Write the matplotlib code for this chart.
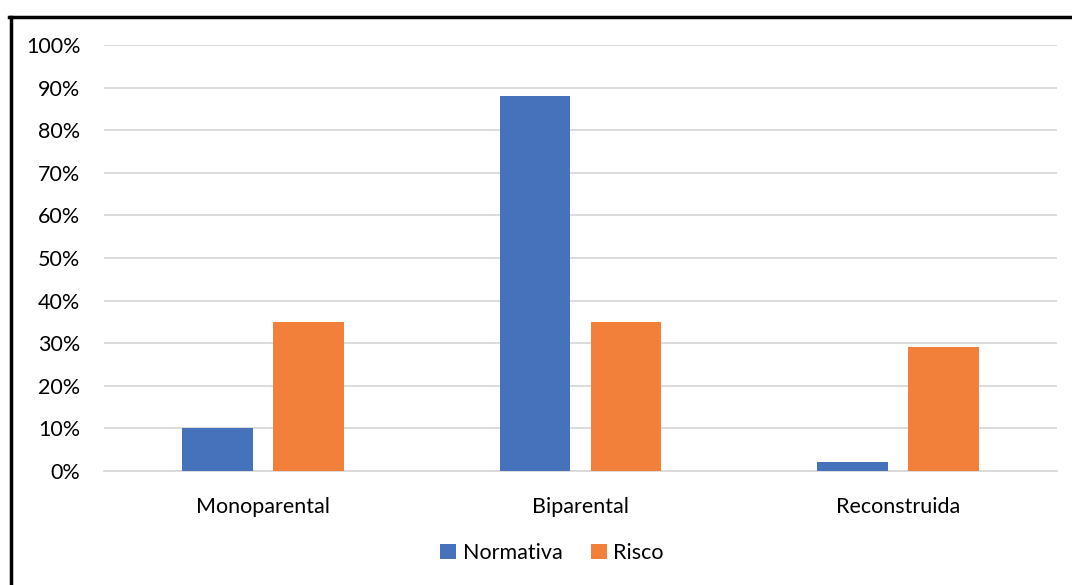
import matplotlib.pyplot as plt
import numpy as np
from matplotlib.lines import Line2D

plt.rcParams['font.family'] = ['Lato', 'DejaVu Sans']

CATEGORIES = ["Monoparental", "Biparental", "Reconstruida"]
NORMATIVA = [10, 88, 2]
RISCO = [35, 35, 29]
YTICKS = [0, 10, 20, 30, 40, 50, 60, 70, 80, 90, 100]

W, H = 1072, 585
fig = plt.figure(figsize=(W / 100, H / 100), dpi=100)
ax = fig.add_axes([104 / W, 1 - 471 / H, (1057 - 104) / W, (471 - 45) / H])

X = np.arange(len(CATEGORIES))
bw = 0.223
off = 0.143
ax.bar(X - off, NORMATIVA, width=bw, color="#4672BC", label="Normativa", zorder=3)
ax.bar(X + off, RISCO, width=bw, color="#F2803B", label="Risco", zorder=3)

ax.set_xlim(-0.5, 2.5)
ax.set_ylim(0, 100)
ax.set_yticks(YTICKS)
ax.set_yticklabels([f"{t}%" for t in YTICKS])
ax.set_xticks(X)
ax.set_xticklabels(CATEGORIES)
ax.tick_params(axis="both", length=0, labelsize=15.5, colors="#000000")
ax.tick_params(axis="y", pad=17)
ax.tick_params(axis="x", pad=19)
ax.grid(axis="y", color="#D9D9D9", linewidth=1.3, zorder=0)
for s in ["top", "right", "left"]:
    ax.spines[s].set_visible(False)
ax.spines["bottom"].set_color("#D9D9D9")
ax.spines["bottom"].set_linewidth(1.3)

fig.legend(loc="center", bbox_to_anchor=(552 / W, 1 - 553 / H), ncol=2, frameon=False,
           fontsize=15.5, handlelength=0.75, handleheight=0.75, handletextpad=0.3,
           columnspacing=1.3)

# outer frame
fig.add_artist(Line2D([10.5 / W, 10.5 / W], [0, 1 - 16.5 / H], color="black",
                      linewidth=2.5, transform=fig.transFigure))
fig.add_artist(Line2D([9 / W, 1], [1 - 16.5 / H, 1 - 16.5 / H], color="black",
                      linewidth=2.5, transform=fig.transFigure))

fig.savefig("out.png", dpi=100)
